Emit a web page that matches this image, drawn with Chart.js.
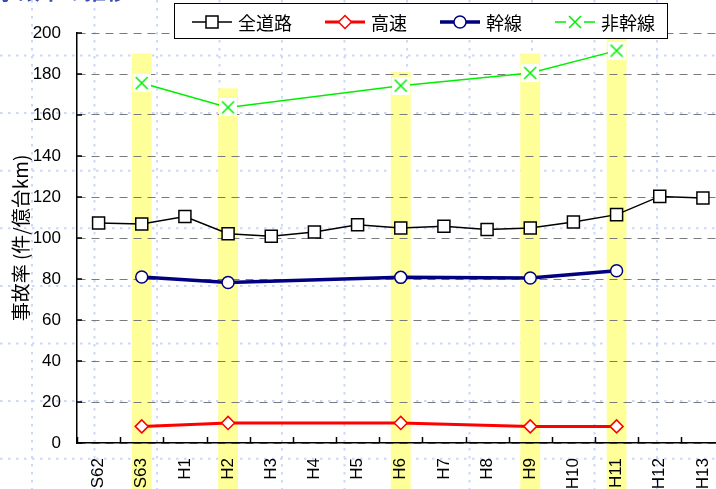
<!DOCTYPE html>
<html lang="ja">
<head>
<meta charset="utf-8">
<title>事故率の推移</title>
<script src="https://cdn.jsdelivr.net/npm/chart.js@4.4.1/dist/chart.umd.min.js"></script>
<style>
  html, body { margin: 0; padding: 0; overflow: hidden; background: #fff; }
  #rateChart { display: block; }
</style>
</head>
<body>
<canvas id="rateChart" width="735" height="489"></canvas>
<script>
// Fiscal years on the x axis
const years = ['S62', 'S63', 'H1', 'H2', 'H3', 'H4', 'H5', 'H6', 'H7', 'H8', 'H9', 'H10', 'H11', 'H12', 'H13'];

// Accident rate (per 100 million vehicle-km)
const allRoads = [107.3, 106.8, 110.5, 102.1, 100.8, 102.9, 106.5, 104.9, 105.7, 104.2, 104.9, 107.8, 111.4, 120.3, 119.5];
const expressway = [null, 8.1, null, 9.8, null, null, null, 9.8, null, null, 8.1, null, 8.1, null, null];
const trunkRoads = [null, 81.0, null, 78.3, null, null, null, 80.8, null, null, 80.5, null, 84.0, null, null];
const nonTrunkRoads = [null, 175.6, null, 163.7, null, null, null, 174.3, null, null, 180.5, null, 191.4, null, null];

// Survey years are marked with a yellow band reaching up to this value
const surveyBandTop = [null, 190, null, 173, null, null, null, 181, null, null, 190, null, 198, null, null];

// Y axis range
const yMin = 0;
const yMax = 200;
const yStep = 20;

const GREEN = '#00ee00';

// Cross marker on a white square, used for the non-trunk series
function makeCrossMarker(color) {
    const c = document.createElement('canvas');
    c.width = 18;
    c.height = 18;
    const g = c.getContext('2d');
    g.fillStyle = '#fff';
    g.fillRect(0, 0, 18, 18);
    g.strokeStyle = color;
    g.lineWidth = 1.5;
    g.beginPath();
    g.moveTo(3, 3); g.lineTo(15, 15);
    g.moveTo(15, 3); g.lineTo(3, 15);
    g.stroke();
    return c;
}
const crossMarker = makeCrossMarker(GREEN);

// Faint dotted sheet grid behind everything + yellow survey bands
const sheetBackground = {
    id: 'sheetBackground',
    beforeDraw(chart) {
        const { ctx, scales: { x, y } } = chart;
        ctx.save();
        ctx.strokeStyle = '#cbd8f6';
        ctx.lineWidth = 2;
        ctx.setLineDash([2.5, 5.5]);
        ctx.beginPath();
        for (let gx = 32; gx < chart.width; gx += 62.5) {
            ctx.moveTo(gx, 0); ctx.lineTo(gx, chart.height);
        }
        for (let gy = 55.5; gy < chart.height; gy += 57.6) {
            ctx.moveTo(0, gy); ctx.lineTo(chart.width, gy);
        }
        ctx.stroke();
        ctx.setLineDash([]);

        // cut-off heading above the chart
        ctx.fillStyle = '#3b4cb0';
        ctx.font = 'bold 22px "Noto Sans CJK JP"';
        ctx.textBaseline = 'bottom';
        ctx.fillText('事故率の推移', -4, 2);

        const step = x.getPixelForValue(1) - x.getPixelForValue(0);
        const bandW = step * 0.46;
        ctx.fillStyle = '#ffff99';
        surveyBandTop.forEach((top, i) => {
            if (top === null) return;
            const cx = x.getPixelForValue(i);
            const py = y.getPixelForValue(top);
            ctx.fillRect(cx - bandW / 2, py, bandW, chart.height - py);
        });
        ctx.restore();
    }
};

// Short inward tick marks on both axes
const innerTicks = {
    id: 'innerTicks',
    afterDatasetsDraw(chart) {
        const { ctx, scales: { x, y } } = chart;
        const step = x.getPixelForValue(1) - x.getPixelForValue(0);
        ctx.save();
        ctx.strokeStyle = '#000';
        ctx.lineWidth = 1.5;
        ctx.beginPath();
        for (let i = 0; i <= years.length; i++) {
            const px = Math.round(x.getPixelForValue(i) - step / 2) + 0.5;
            ctx.moveTo(px, y.bottom);
            ctx.lineTo(px, y.bottom - 6);
        }
        y.ticks.forEach(t => {
            const py = y.getPixelForValue(t.value);
            ctx.moveTo(x.left, py);
            ctx.lineTo(x.left + 5, py);
        });
        ctx.stroke();
        ctx.restore();
    }
};

// Draw one legend symbol
function drawSymbol(ctx, ds, cx, cy) {
    if (ds.pointStyle instanceof HTMLCanvasElement) {
        ctx.drawImage(ds.pointStyle, cx - 9, cy - 9);
        return;
    }
    ctx.fillStyle = ds.pointBackgroundColor;
    ctx.strokeStyle = ds.borderColor;
    ctx.lineWidth = ds.pointBorderWidth;
    ctx.beginPath();
    if (ds.pointStyle === 'rect') {
        const s = ds.pointRadius * Math.SQRT1_2;
        ctx.rect(cx - s, cy - s, s * 2, s * 2);
    } else if (ds.pointStyle === 'rectRot') {
        const r = ds.pointRadius;
        ctx.moveTo(cx, cy - r); ctx.lineTo(cx + r, cy);
        ctx.lineTo(cx, cy + r); ctx.lineTo(cx - r, cy);
        ctx.closePath();
    } else {
        ctx.arc(cx, cy, ds.pointRadius, 0, Math.PI * 2);
    }
    ctx.fill();
    ctx.stroke();
}

// Boxed legend overlapping the top of the plot
const boxLegend = {
    id: 'boxLegend',
    afterDraw(chart) {
        const { ctx } = chart;
        const box = { x: 174, y: 3, w: 493, h: 35 };
        ctx.save();
        ctx.fillStyle = '#fff';
        ctx.fillRect(box.x, box.y, box.w, box.h);
        ctx.strokeStyle = '#000';
        ctx.lineWidth = 1;
        ctx.strokeRect(box.x + 0.5, box.y + 0.5, box.w, box.h);

        ctx.font = '18px "Noto Sans CJK JP"';
        ctx.textBaseline = 'middle';
        const cy = box.y + 19;
        let lx = box.x + 18;
        chart.data.datasets.forEach(ds => {
            ctx.strokeStyle = ds.borderColor;
            ctx.lineWidth = ds.borderWidth;
            ctx.beginPath();
            ctx.moveTo(lx, cy);
            ctx.lineTo(lx + 40, cy);
            ctx.stroke();
            drawSymbol(ctx, ds, lx + 20, cy);
            ctx.fillStyle = '#000';
            ctx.fillText(ds.label, lx + 46, cy + 1);
            lx += 46 + ctx.measureText(ds.label).width + 33;
        });
        ctx.restore();
    }
};

const ctx = document.getElementById('rateChart');

new Chart(ctx, {
    type: 'line',
    data: {
        labels: years,
        datasets: [
            {
                label: '全道路',
                data: allRoads,
                borderColor: '#000',
                borderWidth: 1.5,
                pointStyle: 'rect',
                pointRadius: 8.5,
                pointBackgroundColor: '#fff',
                pointBorderColor: '#000',
                pointBorderWidth: 1.5
            },
            {
                label: '高速',
                data: expressway,
                spanGaps: true,
                borderColor: '#ff0000',
                borderWidth: 3,
                pointStyle: 'rectRot',
                pointRadius: 6.5,
                pointBackgroundColor: '#fff',
                pointBorderColor: '#ff0000',
                pointBorderWidth: 1.5
            },
            {
                label: '幹線',
                data: trunkRoads,
                spanGaps: true,
                borderColor: '#000080',
                borderWidth: 3.5,
                pointStyle: 'circle',
                pointRadius: 6,
                pointBackgroundColor: '#fff',
                pointBorderColor: '#000080',
                pointBorderWidth: 1.5
            },
            {
                label: '非幹線',
                data: nonTrunkRoads,
                spanGaps: true,
                borderColor: GREEN,
                borderWidth: 1.5,
                pointStyle: crossMarker,
                pointRadius: 9,
                pointBorderWidth: 1.5
            }
        ]
    },
    options: {
        responsive: false,
        animation: false,
        events: [],
        layout: { padding: { top: 33, right: 0, bottom: 0, left: 0 } },
        plugins: {
            legend: { display: false },
            tooltip: { enabled: false }
        },
        elements: { line: { tension: 0 } },
        scales: {
            x: {
                type: 'category',
                offset: true,
                grid: { display: false, drawTicks: false },
                border: { display: true, color: '#000', width: 1.5 },
                ticks: {
                    autoSkip: false,
                    minRotation: 90,
                    maxRotation: 90,
                    padding: 15,
                    color: '#000',
                    font: { family: '"Liberation Sans", Arial', size: 17 }
                },
                afterFit(scale) {
                    scale.height = 46;
                    scale.paddingLeft = 0;
                    scale.paddingRight = 0;
                }
            },
            y: {
                min: yMin,
                max: yMax,
                ticks: {
                    stepSize: yStep,
                    padding: 16,
                    color: '#000',
                    font: { family: '"Liberation Sans", Arial', size: 17 }
                },
                grid: { color: '#7a7a7a', lineWidth: 1, drawTicks: false },
                border: { display: true, color: '#000', width: 1.5, dash: [8, 6] },
                title: {
                    display: true,
                    text: '事故率 (件/億台km)',
                    color: '#000',
                    padding: { top: 9, bottom: 0 },
                    font: { family: '"Noto Sans CJK JP"', size: 19 }
                },
                afterFit(scale) { scale.width = 77; }
            }
        }
    },
    plugins: [sheetBackground, innerTicks, boxLegend]
});
</script>
</body>
</html>
